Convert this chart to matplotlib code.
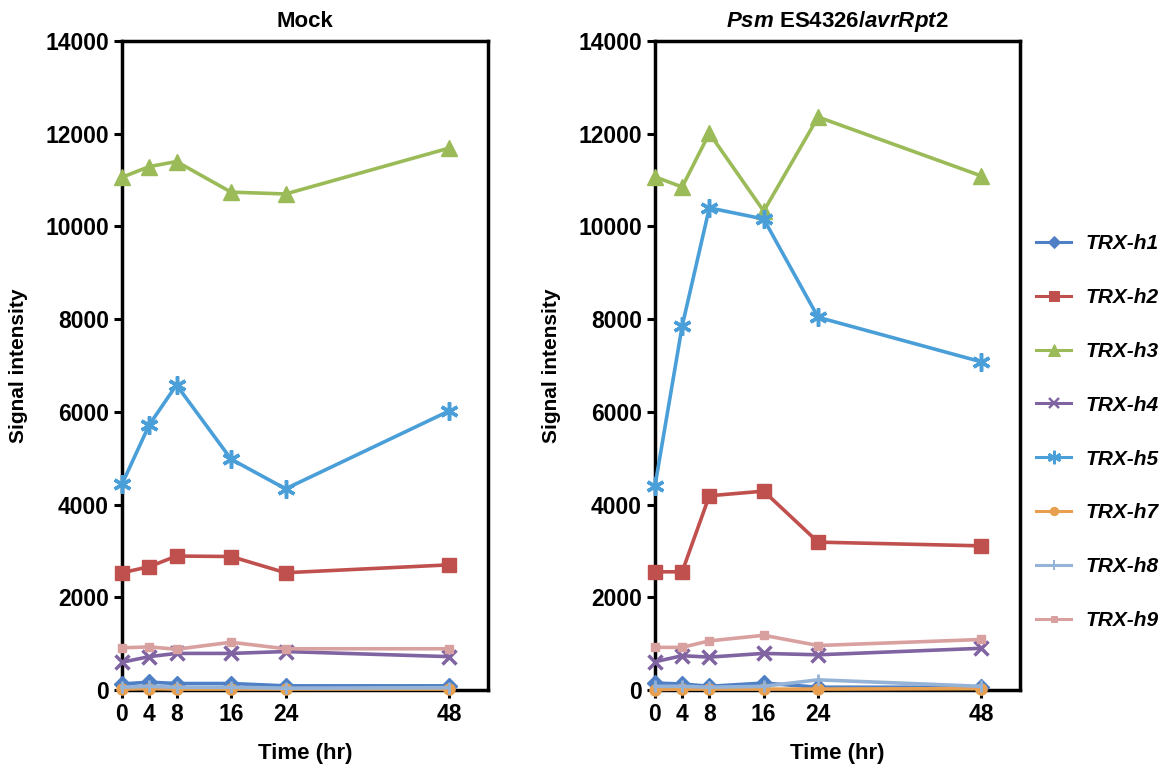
import matplotlib
matplotlib.use("Agg")
import matplotlib.pyplot as plt
from matplotlib.lines import Line2D

plt.rcParams['font.family'] = ['Liberation Sans', 'DejaVu Sans']
plt.rcParams['mathtext.fontset'] = 'custom'
plt.rcParams['mathtext.it'] = 'Liberation Sans:italic:bold'
plt.rcParams['mathtext.rm'] = 'Liberation Sans:bold'

time = [0, 4, 8, 16, 24, 48]
genes = ["TRX-h1", "TRX-h2", "TRX-h3", "TRX-h4", "TRX-h5", "TRX-h7", "TRX-h8", "TRX-h9"]

mock_h1 = [130, 170, 140, 140, 90, 90]
mock_h2 = [2530, 2660, 2890, 2880, 2530, 2700]
mock_h3 = [11060, 11290, 11400, 10740, 10700, 11690]
mock_h4 = [600, 720, 790, 790, 830, 720]
mock_h5 = [4440, 5720, 6580, 4980, 4340, 6020]
mock_h7 = [20, 30, 20, 20, 20, 20]
mock_h8 = [60, 80, 60, 60, 40, 50]
mock_h9 = [910, 930, 880, 1030, 890, 890]

psm_h1 = [150, 130, 80, 150, 60, 60]
psm_h2 = [2550, 2550, 4190, 4290, 3190, 3110]
psm_h3 = [11070, 10850, 12010, 10330, 12360, 11090]
psm_h4 = [610, 740, 710, 790, 760, 900]
psm_h5 = [4400, 7850, 10400, 10160, 8040, 7080]
psm_h7 = [10, 20, 20, 20, 20, 30]
psm_h8 = [80, 80, 60, 80, 220, 80]
psm_h9 = [920, 920, 1060, 1180, 960, 1090]

mock = [mock_h1, mock_h2, mock_h3, mock_h4, mock_h5, mock_h7, mock_h8, mock_h9]
psm = [psm_h1, psm_h2, psm_h3, psm_h4, psm_h5, psm_h7, psm_h8, psm_h9]

colors = ['#4F7FC4', '#C0504D', '#9BBB59', '#8064A2', '#4A9FD9', '#E8A050', '#95B3D7', '#D9A0A0']
markers = ['D', 's', '^', 'x', (6, 2, 0), 'o', '|', 's']
msizes = [8, 10, 11, 10, 13, 8, 9, 6]
mews = [1, 1, 1, 2.5, 2.5, 1, 2, 1]

fig = plt.figure(figsize=(11.65, 7.69), dpi=100)
ax1 = fig.add_axes([0.1047, 0.1027, 0.3142, 0.8440])
ax2 = fig.add_axes([0.5622, 0.1027, 0.3133, 0.8440])

titles = ["Mock", r"$\it{Psm}$ ES4326/$\it{avrRpt2}$"]
for ax, data, title in zip([ax1, ax2], [mock, psm], titles):
    for vals, c, m, ms, mew in zip(data, colors, markers, msizes, mews):
        ax.plot(time, vals, color=c, marker=m, markersize=ms, markeredgewidth=mew,
                linewidth=2.6, clip_on=False, zorder=3)
    ax.set_xlim(0, 53.7)
    ax.set_ylim(0, 14000)
    ax.set_xticks(time)
    ax.set_yticks(range(0, 14001, 2000))
    for s in ax.spines.values():
        s.set_linewidth(2.5)
        s.set_color('black')
    ax.tick_params(axis='both', direction='out', width=2.2, length=6, labelsize=16.5)
    for lab in ax.get_xticklabels() + ax.get_yticklabels():
        lab.set_fontweight('bold')
    ax.set_xlabel("Time (hr)", fontsize=16, fontweight='bold', labelpad=12)
    ax.set_ylabel("Signal intensity", fontsize=15, fontweight='bold', labelpad=12)
    ax.set_title(title, fontsize=16, fontweight='bold', pad=10)

handles = [Line2D([0], [0], color=c, marker=m, markersize=ms * 0.75, markeredgewidth=mew * 0.7, linewidth=2.2)
           for c, m, ms, mew in zip(colors, markers, msizes, mews)]
leg = fig.legend(handles, genes, loc='center left', bbox_to_anchor=(0.873, 0.438),
                 frameon=False, fontsize=15, handlelength=1.7, labelspacing=1.67,
                 handletextpad=0.7)
for t in leg.get_texts():
    t.set_fontweight('bold')
    t.set_fontstyle('italic')

fig.savefig("out.png", dpi=100)
